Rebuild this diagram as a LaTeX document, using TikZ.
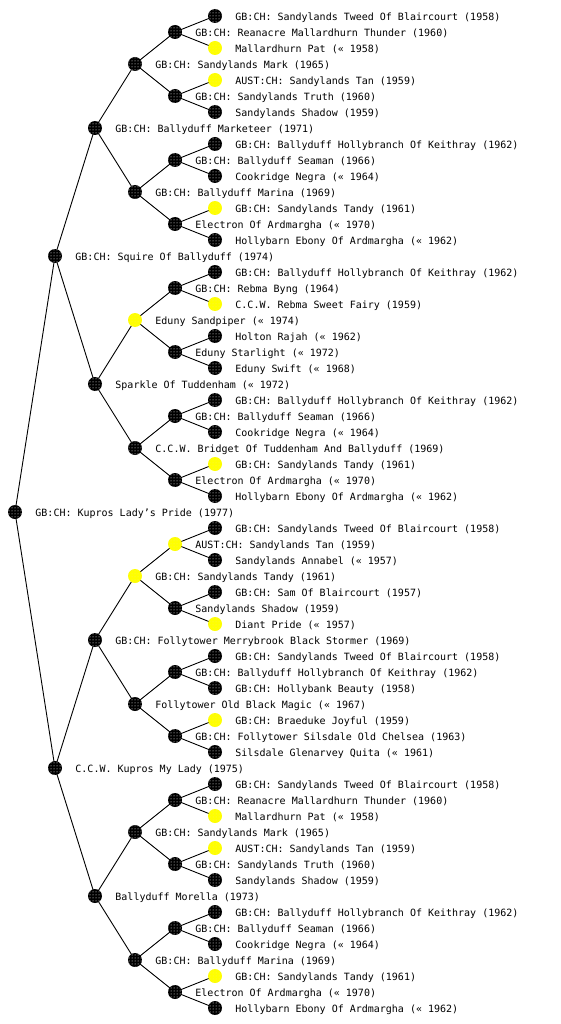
\documentclass[tikz,border=0pt]{standalone}
\usepackage{fontspec}
\newfontfamily\pedfont{DejaVu Sans Mono}
\usetikzlibrary{patterns, backgrounds}
\definecolor{kdog}{HTML}{000000}
\definecolor{kdots}{HTML}{FFFFFF}
\definecolor{ydog}{HTML}{FFFF00}
\definecolor{ydots}{HTML}{F4F060}
\tikzset{
  every picture/.style={x=1pt, y=-1pt, line width=0.9pt},
  dog/.style={circle, minimum size=14pt, inner sep=0pt, fill=#1dog, postaction={pattern=dots, pattern color=#1dots}},
  dog/.default=k,
  who/.style={font=\pedfont\fontsize{10pt}{12pt}\selectfont, inner sep=0pt, anchor=base west},
  link/.style={draw=black, line width=0.9pt},
}

\begin{document}
\begin{tikzpicture}
  \useasboundingbox (0,0) rectangle (560,1024);
  % generation 0
  \node[dog] (p-0-0) at (15,512) {};
  \node[who] (t-0-0) at ([xshift=20pt, yshift=-4.5pt]p-0-0.center) {GB:CH: Kupros Lady’s Pride (1977)};
  % generation 1
  \foreach \i/\c/\t in {0/k/{GB:CH: Squire Of Ballyduff (1974)}, 1/k/{C.C.W. Kupros My Lady (1975)}} {
    \node[dog=\c] (p-1-\i) at (55, 512*\i+256) {};
    \node[who] (t-1-\i) at ([xshift=20pt, yshift=-4.5pt]p-1-\i.center) {\t};
  }
  % generation 2
  \foreach \i/\c/\t in {0/k/{GB:CH: Ballyduff Marketeer (1971)}, 1/k/{Sparkle Of Tuddenham (« 1972)},
      2/k/{GB:CH: Follytower Merrybrook Black Stormer (1969)}, 3/k/{Ballyduff Morella (1973)}} {
    \node[dog=\c] (p-2-\i) at (95, 256*\i+128) {};
    \node[who] (t-2-\i) at ([xshift=20pt, yshift=-4.5pt]p-2-\i.center) {\t};
  }
  % generation 3
  \foreach \i/\c/\t in {0/k/{GB:CH: Sandylands Mark (1965)}, 1/k/{GB:CH: Ballyduff Marina (1969)},
      2/y/{Eduny Sandpiper (« 1974)}, 3/k/{C.C.W. Bridget Of Tuddenham And Ballyduff (1969)},
      4/y/{GB:CH: Sandylands Tandy (1961)}, 5/k/{Follytower Old Black Magic (« 1967)},
      6/k/{GB:CH: Sandylands Mark (1965)}, 7/k/{GB:CH: Ballyduff Marina (1969)}} {
    \node[dog=\c] (p-3-\i) at (135, 128*\i+64) {};
    \node[who] (t-3-\i) at ([xshift=20pt, yshift=-4.5pt]p-3-\i.center) {\t};
  }
  % generation 4
  \foreach \i/\c/\t in {0/k/{GB:CH: Reanacre Mallardhurn Thunder (1960)}, 1/k/{GB:CH: Sandylands Truth (1960)},
      2/k/{GB:CH: Ballyduff Seaman (1966)}, 3/k/{Electron Of Ardmargha (« 1970)},
      4/k/{GB:CH: Rebma Byng (1964)}, 5/k/{Eduny Starlight (« 1972)},
      6/k/{GB:CH: Ballyduff Seaman (1966)}, 7/k/{Electron Of Ardmargha (« 1970)},
      8/y/{AUST:CH: Sandylands Tan (1959)}, 9/k/{Sandylands Shadow (1959)},
      10/k/{GB:CH: Ballyduff Hollybranch Of Keithray (1962)}, 11/k/{GB:CH: Follytower Silsdale Old Chelsea (1963)},
      12/k/{GB:CH: Reanacre Mallardhurn Thunder (1960)}, 13/k/{GB:CH: Sandylands Truth (1960)},
      14/k/{GB:CH: Ballyduff Seaman (1966)}, 15/k/{Electron Of Ardmargha (« 1970)}} {
    \node[dog=\c] (p-4-\i) at (175, 64*\i+32) {};
    \node[who] (t-4-\i) at ([xshift=20pt, yshift=-4.5pt]p-4-\i.center) {\t};
  }
  % generation 5
  \foreach \i/\c/\t in {0/k/{GB:CH: Sandylands Tweed Of Blaircourt (1958)}, 1/y/{Mallardhurn Pat (« 1958)},
      2/y/{AUST:CH: Sandylands Tan (1959)}, 3/k/{Sandylands Shadow (1959)},
      4/k/{GB:CH: Ballyduff Hollybranch Of Keithray (1962)}, 5/k/{Cookridge Negra (« 1964)},
      6/y/{GB:CH: Sandylands Tandy (1961)}, 7/k/{Hollybarn Ebony Of Ardmargha (« 1962)},
      8/k/{GB:CH: Ballyduff Hollybranch Of Keithray (1962)}, 9/y/{C.C.W. Rebma Sweet Fairy (1959)},
      10/k/{Holton Rajah (« 1962)}, 11/k/{Eduny Swift (« 1968)},
      12/k/{GB:CH: Ballyduff Hollybranch Of Keithray (1962)}, 13/k/{Cookridge Negra (« 1964)},
      14/y/{GB:CH: Sandylands Tandy (1961)}, 15/k/{Hollybarn Ebony Of Ardmargha (« 1962)},
      16/k/{GB:CH: Sandylands Tweed Of Blaircourt (1958)}, 17/k/{Sandylands Annabel (« 1957)},
      18/k/{GB:CH: Sam Of Blaircourt (1957)}, 19/y/{Diant Pride (« 1957)},
      20/k/{GB:CH: Sandylands Tweed Of Blaircourt (1958)}, 21/k/{GB:CH: Hollybank Beauty (1958)},
      22/y/{GB:CH: Braeduke Joyful (1959)}, 23/k/{Silsdale Glenarvey Quita (« 1961)},
      24/k/{GB:CH: Sandylands Tweed Of Blaircourt (1958)}, 25/y/{Mallardhurn Pat (« 1958)},
      26/y/{AUST:CH: Sandylands Tan (1959)}, 27/k/{Sandylands Shadow (1959)},
      28/k/{GB:CH: Ballyduff Hollybranch Of Keithray (1962)}, 29/k/{Cookridge Negra (« 1964)},
      30/y/{GB:CH: Sandylands Tandy (1961)}, 31/k/{Hollybarn Ebony Of Ardmargha (« 1962)}} {
    \node[dog=\c] (p-5-\i) at (215, 32*\i+16) {};
    \node[who] (t-5-\i) at ([xshift=20pt, yshift=-4.5pt]p-5-\i.center) {\t};
  }
  % sire and dam links
  \begin{scope}[on background layer]
    \foreach \L/\n in {0/0, 1/1, 2/3, 3/7, 4/15}
      \foreach \i in {0,...,\n} {
        \pgfmathtruncatemacro\M{\L+1}
        \pgfmathtruncatemacro\a{2*\i}
        \pgfmathtruncatemacro\b{2*\i+1}
        \draw[link] (p-\L-\i.center) -- (p-\M-\a.center) (p-\L-\i.center) -- (p-\M-\b.center);
      }
  \end{scope}
\end{tikzpicture}
\end{document}
